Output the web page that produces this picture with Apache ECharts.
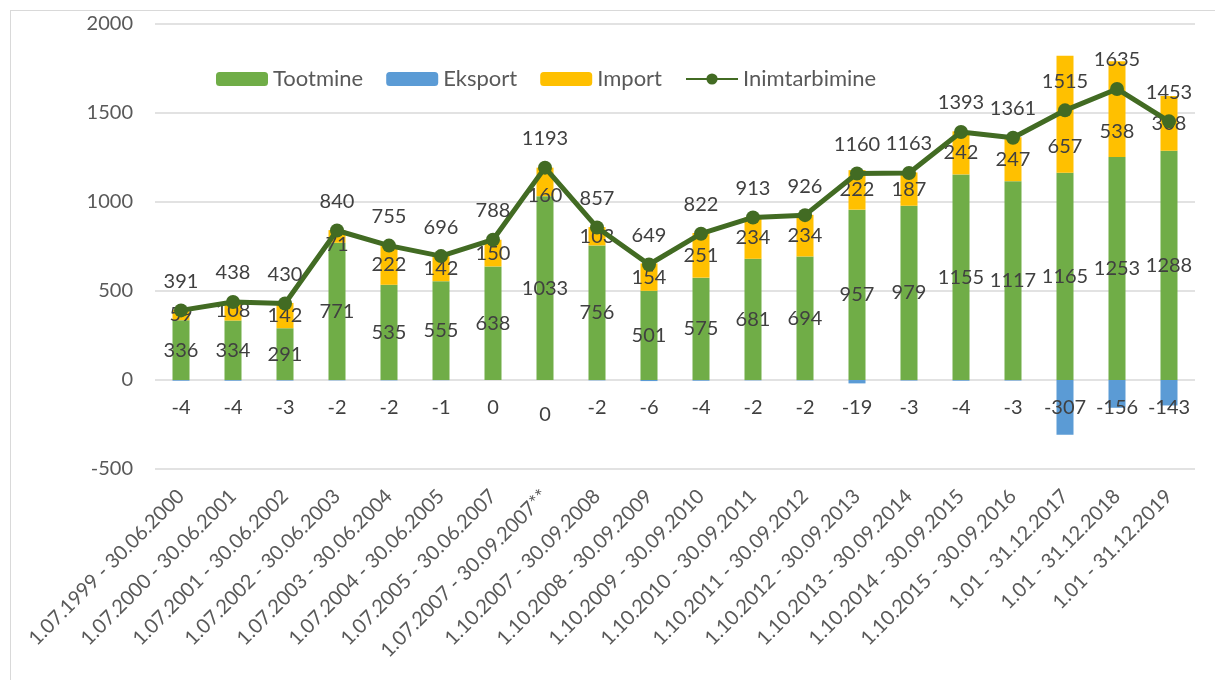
<!DOCTYPE html>
<html>
<head>
<meta charset="utf-8">
<script src="https://cdn.jsdelivr.net/npm/echarts@6/dist/echarts.min.js"></script>
<style>
  html, body { margin: 0; padding: 0; background: #fff; }
  #main { position: absolute; left: 0; top: 0; width: 1215px; height: 680px; }
  #frame { position: absolute; left: 10px; top: 10px; width: 1210px; height: 680px; border: 1px solid #d9d9d9; box-sizing: border-box; }
</style>
</head>
<body>
<div id="frame"></div>
<div id="main"></div>
<script>
// perioodid
var categories = ['1.07.1999 - 30.06.2000','1.07.2000 - 30.06.2001','1.07.2001 - 30.06.2002','1.07.2002 - 30.06.2003',
  '1.07.2003 - 30.06.2004','1.07.2004 - 30.06.2005','1.07.2005 - 30.06.2007','1.07.2007 - 30.09.2007**',
  '1.10.2007 - 30.09.2008','1.10.2008 - 30.09.2009','1.10.2009 - 30.09.2010','1.10.2010 - 30.09.2011',
  '1.10.2011 - 30.09.2012','1.10.2012 - 30.09.2013','1.10.2013 - 30.09.2014','1.10.2014 - 30.09.2015',
  '1.10.2015 - 30.09.2016','1.01 - 31.12.2017','1.01 - 31.12.2018','1.01 - 31.12.2019'];
var tootmine = [336,334,291,771,535,555,638,1033,756,501,575,681,694,957,979,1155,1117,1165,1253,1288];
var eksport = [-4,-4,-3,-2,-2,-1,0,0,-2,-6,-4,-2,-2,-19,-3,-4,-3,-307,-156,-143];
var importData = [59,108,142,71,222,142,150,160,103,154,251,234,234,222,187,242,247,657,538,308];
var inimtarbimine = [391,438,430,840,755,696,788,1193,857,649,822,913,926,1160,1163,1393,1361,1515,1635,1453];
var yTicks = [-500, 0, 500, 1000, 1500, 2000];

var myChart = echarts.init(document.getElementById('main'));

var labelFont = 'Lato';
var labelColor = '#404040';

// mõned impordi sildid on nihutatud allapoole nagu originaalis
var importShift = {3: 8, 7: 14, 17: 32, 18: 22};
var importItems = importData.map(function (v, i) {
  var item = { value: v };
  if (importShift[i]) item.label = { offset: [0, importShift[i]] };
  return item;
});
var eksportItems = eksport.map(function (v, i) {
  var item = { value: v };
  if (i === 7) item.label = { offset: [0, 7] };
  return item;
});

var option = {
  animation: false,
  textStyle: { fontFamily: labelFont },
  legend: {
    left: 211,
    top: 63,
    itemWidth: 52,
    itemHeight: 14,
    itemGap: 23,
    selectedMode: false,
    textStyle: { color: '#595959', fontSize: 22, fontFamily: labelFont },
    data: ['Tootmine', 'Eksport', 'Import', 'Inimtarbimine']
  },
  grid: { left: 155, right: 20, top: 24, bottom: 211 },
  xAxis: {
    type: 'category',
    data: categories,
    axisLine: { show: false },
    axisTick: { show: false },
    axisLabel: {
      interval: 0,
      rotate: 45,
      margin: 24,
      fontSize: 20,
      color: '#595959',
      fontFamily: labelFont
    }
  },
  yAxis: {
    type: 'value',
    min: yTicks[0],
    max: yTicks[yTicks.length - 1],
    interval: 500,
    axisLine: { show: false },
    axisTick: { show: false },
    axisLabel: {
      fontSize: 20, color: '#595959', margin: 22, fontFamily: labelFont,
      formatter: function (v) { return String(v); }
    },
    splitLine: { lineStyle: { color: '#d9d9d9', width: 1.5 } }
  },
  series: [
    {
      name: 'Tootmine',
      type: 'bar',
      stack: 'pos',
      barWidth: 17,
      barGap: '-100%',
      itemStyle: { color: '#70ad47' },
      label: { show: true, position: 'inside', color: labelColor, fontSize: 20 },
      data: tootmine
    },
    {
      name: 'Eksport',
      type: 'bar',
      stack: 'neg',
      barWidth: 17,
      barGap: '-100%',
      itemStyle: { color: '#5b9bd5' },
      label: {
        show: true,
        position: ['50%', 28],
        align: 'center',
        verticalAlign: 'middle',
        color: labelColor,
        fontSize: 20
      },
      data: eksportItems
    },
    {
      name: 'Import',
      type: 'bar',
      stack: 'pos',
      barWidth: 17,
      barGap: '-100%',
      itemStyle: { color: '#ffc000' },
      label: { show: true, position: 'inside', color: labelColor, fontSize: 20 },
      data: importItems
    },
    {
      name: 'Inimtarbimine',
      type: 'line',
      symbol: 'circle',
      symbolSize: 14,
      z: 5,
      itemStyle: { color: '#426b23' },
      lineStyle: { color: '#426b23', width: 5 },
      label: { show: true, position: 'top', distance: 12, color: labelColor, fontSize: 20 },
      data: inimtarbimine
    }
  ]
};

myChart.setOption(option);
</script>
</body>
</html>
